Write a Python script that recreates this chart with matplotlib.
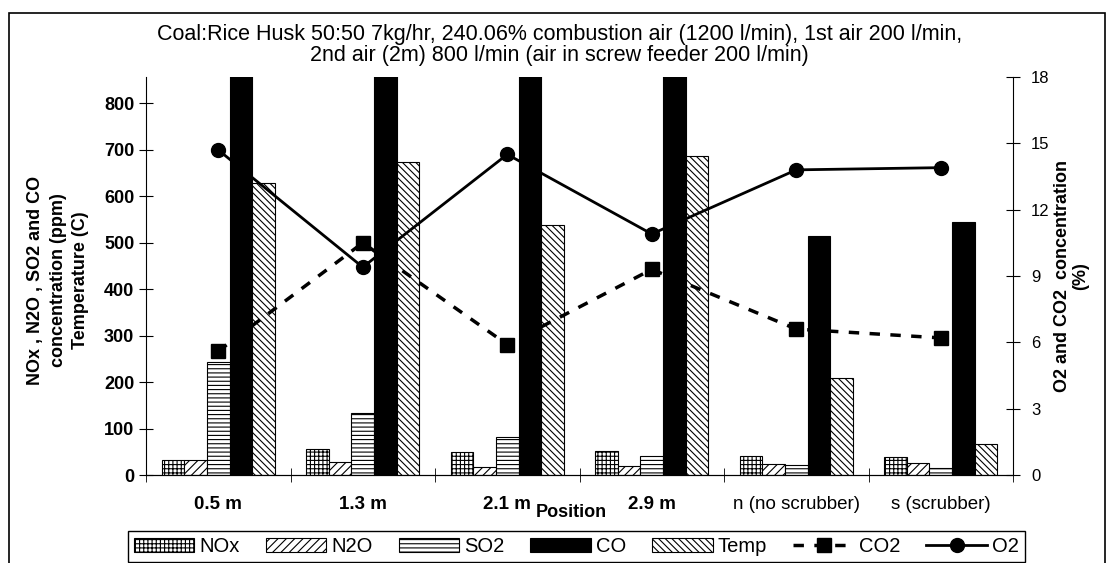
import numpy as np
import matplotlib
matplotlib.use("Agg")
import matplotlib.pyplot as plt
from matplotlib.patches import Rectangle

plt.rcParams["font.family"] = ["Liberation Sans", "DejaVu Sans"]
plt.rcParams["hatch.linewidth"] = 0.8

positions = ["0.5 m", "1.3 m", "2.1 m", "2.9 m", "n (no scrubber)", "s (scrubber)"]
nox = [32, 57, 50, 52, 41, 39]
n2o = [32, 27, 18, 19, 23, 25]
so2 = [244, 134, 81, 41, 21, 14]
co = [1500, 1500, 1500, 1500, 515, 545]  # first four run off the top of the chart
temp = [629, 675, 538, 687, 208, 67]
co2 = [5.6, 10.5, 5.9, 9.3, 6.6, 6.2]
o2 = [14.7, 9.4, 14.5, 10.9, 13.8, 13.9]

title = ("Coal:Rice Husk 50:50 7kg/hr, 240.06% combustion air (1200 l/min), 1st air 200 l/min,\n"
         "2nd air (2m) 800 l/min (air in screw feeder 200 l/min)")

fig = plt.figure(figsize=(11.08, 5.63), dpi=100)
ax = fig.add_axes([146 / 1108, 1 - 475 / 563, (1013 - 146) / 1108, (475 - 77) / 563])

x = np.arange(len(positions))
w = 0.156
bar_series = [
    ("NOx", nox, "white", "++++"),
    ("N2O", n2o, "white", "////"),
    ("SO2", so2, "white", "----"),
    ("CO", co, "black", None),
    ("Temp", temp, "white", "\\\\\\\\\\"),
]
handles = []
for i, (name, vals, fc, hatch) in enumerate(bar_series):
    b = ax.bar(x + (i - 2) * w, vals, w, color=fc, edgecolor="black", hatch=hatch,
               linewidth=0.8, label=name)
    handles.append(b)

ax.set_xlim(-0.5, len(positions) - 0.5)
ax.set_ylim(0, 857)
ax.set_yticks(np.arange(0, 801, 100))
ax.set_xticks(x)
ax.set_xticklabels(positions, fontsize=13.5)
for lab in ax.get_xticklabels()[:4]:
    lab.set_fontweight("bold")
ax.set_xticks(np.arange(-0.5, len(positions)), minor=True)
ax.tick_params(axis="x", which="major", length=0, pad=15)
ax.tick_params(axis="x", which="minor", direction="inout", length=10)
ax.tick_params(axis="y", direction="inout", length=10, labelsize=13)
for lab in ax.get_yticklabels():
    lab.set_fontweight("bold")
ax.spines["top"].set_visible(False)
ax.spines["right"].set_visible(False)
ax.set_ylabel("NOx , N2O , SO2 and CO\nconcentration (ppm)\nTemperature (C)",
              fontsize=13, fontweight="bold", linespacing=1.4)
ax.yaxis.set_label_coords(-0.066, 0.49)
ax.set_xlabel("Position", fontsize=13, fontweight="bold")
ax.xaxis.set_label_coords(0.49, -0.073)

ax2 = ax.twinx()
ax2.set_ylim(0, 18)
ax2.set_yticks(np.arange(0, 19, 3))
ax2.tick_params(axis="y", direction="inout", length=10, labelsize=12, pad=8)
ax2.spines["top"].set_visible(False)
ax2.spines["left"].set_visible(False)
l_co2, = ax2.plot(x, co2, color="black", linestyle=(0, (3, 3)), linewidth=2.5,
                  marker="s", markersize=9.5, label="CO2")
l_o2, = ax2.plot(x, o2, color="black", linestyle="-", linewidth=2,
                 marker="o", markersize=10, label="O2")
ax2.set_ylabel("O2 and CO2  concentration\n(%)", fontsize=13, fontweight="bold",
               linespacing=1.1)
ax2.yaxis.set_label_coords(1.047, 0.5)

fig.suptitle(title, x=0.505, y=0.958, fontsize=15.5, va="top", linespacing=1.0)

leg = fig.legend(handles + [l_co2, l_o2], [h.get_label() for h in handles] + ["CO2", "O2"],
                 loc="center", bbox_to_anchor=(0.52, 0.030), ncol=7, fontsize=14.5,
                 frameon=True, fancybox=False, edgecolor="black", framealpha=1,
                 handlelength=3.0, handletextpad=0.25, columnspacing=1.3,
                 borderpad=0.3)
leg.get_frame().set_linewidth(1.0)

fig.patches.append(Rectangle((9 / 1108, -0.1), (1105 - 9) / 1108, 1.1 - 13 / 563,
                             transform=fig.transFigure, fill=False,
                             edgecolor="black", linewidth=1.2))

fig.savefig("out.png", dpi=100)
